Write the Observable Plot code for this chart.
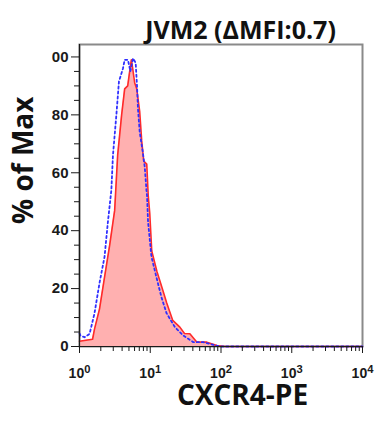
<!DOCTYPE html>
<html><head><meta charset="utf-8">
<script src="https://cdn.jsdelivr.net/npm/d3@7"></script>
<script src="https://cdn.jsdelivr.net/npm/@observablehq/plot@0.6"></script>
<style>
body{margin:0;background:#fff}
#chart svg{display:block}
#chart g[aria-label="y-axis tick label"] text,
#chart g[aria-label="x-axis tick label"] text{font-weight:bold;fill:#1a1a1a}
</style>
</head><body><div id="chart"></div>
<script>
const title = "JVM2 (ΔMFI:0.7)";
const xLabel = "CXCR4-PE";
const yLabel = "% of Max";

// Red (filled) histogram: fluorescence value, % of max
const redX = [1.0, 1.53, 1.63, 1.92, 2.26, 2.67, 3.14, 3.46, 3.94, 4.35, 4.8, 5.12, 5.41, 5.65, 6.03, 6.44, 7.1, 7.57, 8.09, 8.92, 9.37, 9.84, 10.5, 12.4, 14.6, 17.1, 20.8, 26.2, 30.5, 36.3, 45.7, 63.1, 87.7, 114, 10000];
const redY = [1.8, 2.5, 6, 13, 24, 35, 47, 66, 80, 89, 90, 95, 99, 96, 91, 89, 81, 71, 64, 63, 52, 46, 33, 26, 20.5, 15, 9, 6.7, 4.5, 4.4, 1.5, 1.5, 0.3, 0, 0];

// Blue (dotted) histogram
const blueX = [1.0, 1.03, 1.18, 1.39, 1.63, 1.92, 2.26, 2.52, 2.82, 2.97, 3.32, 3.61, 4.11, 4.35, 4.84, 5.24, 5.7, 6.22, 6.5, 6.71, 7.1, 7.75, 8.36, 8.83, 9.01, 9.31, 10.4, 12.2, 14.4, 17.0, 22.3, 29.2, 40.5, 56.1, 77.8, 96.8, 10000];
const blueY = [4.5, 3.8, 3.2, 4.4, 11.5, 22, 31, 43, 54, 66, 80, 91.5, 96, 99, 99, 95, 99.5, 98, 90, 82, 74, 68, 62, 54, 52, 43, 31, 24, 17, 11.5, 6.7, 3.8, 1.5, 1.5, 0.6, 0, 0];

const yTicks = [0, 20, 40, 60, 80, 100];
const yTickLabels = ["0", "20", "40", "60", "80", "00"];
const yMinorTicks = [5, 10, 15, 25, 30, 35, 45, 50, 55, 65, 70, 75, 85, 90, 95];
const xTicks = [1, 10, 100, 1000, 10000];
const xTickExponents = ["0", "1", "2", "3", "4"];
const xMinorTicks = [];
for (const dec of [1, 10, 100, 1000]) for (const m of [2,3,4,5,6,7,8,9]) xMinorTicks.push(dec * m);

const red = redX.map((x, i) => ({x, y: redY[i]}));
const blue = blueX.map((x, i) => ({x, y: blueY[i]}));
const labelFont = "'Open Sans', sans-serif";

const plot = Plot.plot({
  width: 377, height: 423,
  marginLeft: 79, marginRight: 15, marginTop: 44, marginBottom: 77,
  style: {fontFamily: "'Liberation Sans', Arial, sans-serif", fontSize: "15px", background: "#fff", color: "#1a1a1a"},
  x: {type: "log", domain: [1, 10000], label: null},
  y: {domain: [0, 104.3], label: null},
  marks: [
    Plot.frame({stroke: "#8a8a8a", strokeWidth: 2}),
    Plot.areaY(red, {x: "x", y: "y", fill: "#ffb0b0"}),
    Plot.lineY(red, {x: "x", y: "y", stroke: "#ff2a2a", strokeWidth: 1.6}),
    Plot.lineY(blue, {x: "x", y: "y", stroke: "#2f2fff", strokeWidth: 1.8, strokeDasharray: "2.2,2.8"}),
    Plot.ruleX([1], {stroke: "#1a1a1a", strokeWidth: 1.2}),
    Plot.ruleY([0], {stroke: "#1a1a1a", strokeWidth: 1.2}),
    Plot.axisY({ticks: yMinorTicks, anchor: "left", tickSize: 5, tickFormat: () => "", label: null}),
    Plot.axisY({ticks: yTicks, anchor: "left", tickSize: 8, tickPadding: 3, tickFormat: d => yTickLabels[yTicks.indexOf(d)], fontSize: 15, label: null}),
    Plot.axisX({ticks: xMinorTicks, anchor: "bottom", tickSize: 5, tickFormat: () => "", label: null}),
    Plot.axisX({ticks: xTicks, anchor: "bottom", tickSize: 7, tickPadding: 15, tickFormat: d => "10", fontSize: 14, label: null}),
    Plot.text([title], {text: d => d, frameAnchor: "top", dx: 19.5, dy: -23.7, fontSize: 25, fontWeight: "bold", fontFamily: labelFont, fill: "#111"}),
    Plot.text([xLabel], {text: d => d, frameAnchor: "bottom", dx: 21.5, dy: 58, fontSize: 28, fontWeight: "bold", fontFamily: labelFont, fill: "#111"}),
    Plot.text([yLabel], {text: d => d, frameAnchor: "left", rotate: -90, dx: -55, dy: 28.5, fontSize: 28, fontWeight: "bold", fontFamily: labelFont, fill: "#111"})
  ]
});

// superscript exponents for the major x tick labels
const majorLabels = d3.select(plot).selectAll('g[aria-label="x-axis tick label"] text').filter(function() { return this.textContent === "10"; });
majorLabels.each(function(_, i) {
  const t = d3.select(this);
  t.text("");
  t.append("tspan").text("10");
  t.append("tspan").attr("dy", "-0.5em").attr("font-size", "0.8em").text(xTickExponents[i]);
});
// drop the empty minor-tick label elements
d3.select(plot).selectAll('g[aria-label="x-axis tick label"] text, g[aria-label="y-axis tick label"] text').filter(function() { return this.textContent === ""; }).remove();

document.getElementById("chart").appendChild(plot);
</script>
</body></html>
